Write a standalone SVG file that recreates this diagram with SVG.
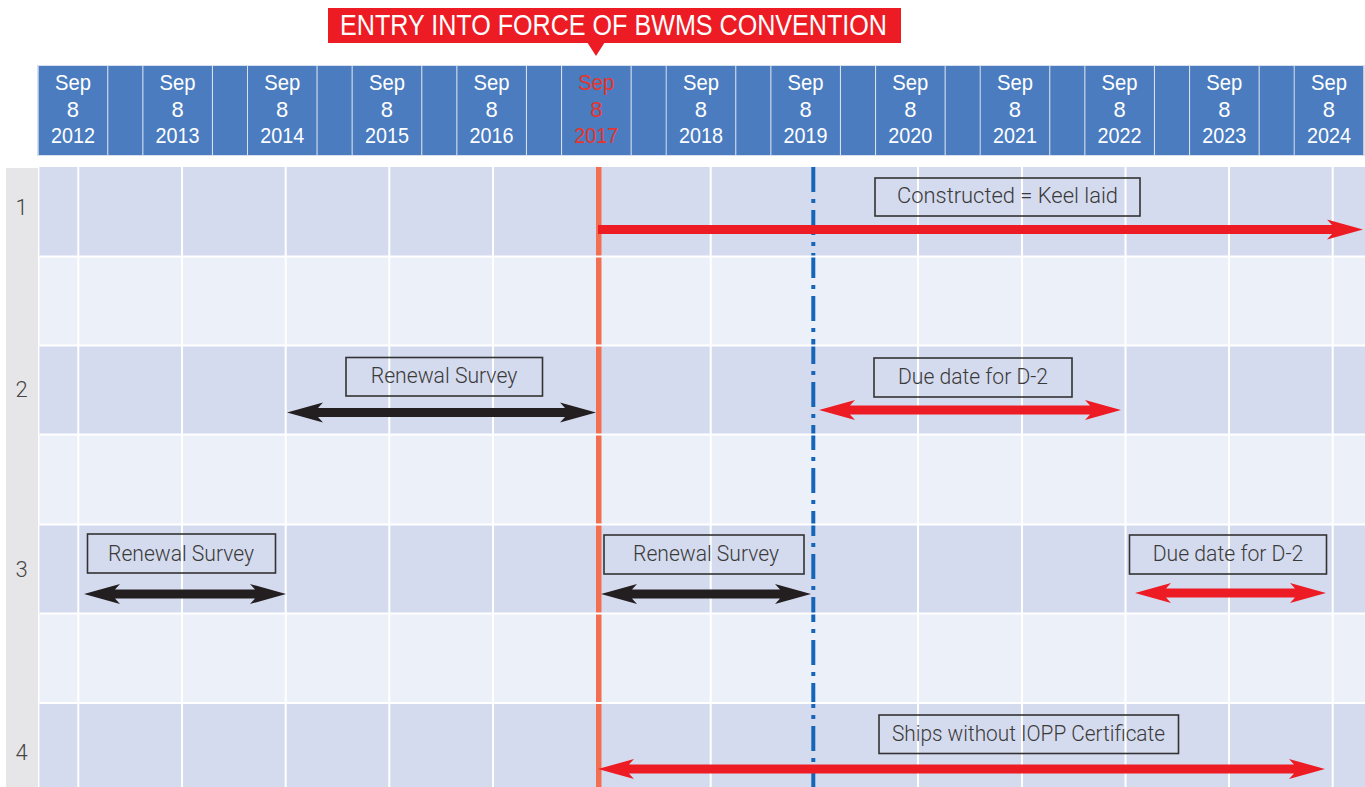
<svg xmlns="http://www.w3.org/2000/svg" width="1365" height="787" viewBox="0 0 1365 787">
<style>
.hc{fill:#4a7cbf}
.ht{font-family:"Liberation Sans",Arial,sans-serif;font-size:22px;fill:#ffffff;text-anchor:middle}
.ht.red{fill:#e8342c}
.dark{fill:#d5dbee}
.gl{stroke:#ffffff;stroke-width:2}
.box{fill:none;stroke:#333333;stroke-width:1.6}
.bt{font-family:Roboto,"Liberation Sans",Arial,sans-serif;font-weight:300;font-size:22px;fill:#3a3a3a}
.num{font-family:Roboto,"Liberation Sans",Arial,sans-serif;font-weight:300;font-size:22px;fill:#444444;text-anchor:middle}
.ar-red{fill:#ed1c24}
.ar-blk{fill:#231f20}
</style>
<rect width="1365" height="787" fill="#ffffff"/>

<g id="banner">
<rect x="328" y="8" width="573" height="35" fill="#ed1c24"/>
<polygon points="587,42 605,42 596,56" fill="#ed1c24"/>
<text x="340" y="35" font-family="Liberation Sans,Arial,sans-serif" font-size="29" fill="#ffffff" textLength="547" lengthAdjust="spacingAndGlyphs">ENTRY INTO FORCE OF BWMS CONVENTION</text>
</g>

<g id="header">
<rect x="37" y="65" width="1328" height="91" fill="#d8e0ee"/>
<rect class="hc" x="38.7" y="66" width="68.5" height="89"/><rect class="hc" x="108.3" y="66" width="34" height="89"/>
<rect class="hc" x="143.4" y="66" width="68.5" height="89"/><rect class="hc" x="213" y="66" width="34" height="89"/>
<rect class="hc" x="248" y="66" width="68.5" height="89"/><rect class="hc" x="317.6" y="66" width="34" height="89"/>
<rect class="hc" x="352.7" y="66" width="68.5" height="89"/><rect class="hc" x="422.3" y="66" width="34" height="89"/>
<rect class="hc" x="457.4" y="66" width="68.5" height="89"/><rect class="hc" x="527" y="66" width="34" height="89"/>
<rect class="hc" x="562.1" y="66" width="68.5" height="89"/><rect class="hc" x="631.7" y="66" width="34" height="89"/>
<rect class="hc" x="666.7" y="66" width="68.5" height="89"/><rect class="hc" x="736.3" y="66" width="34" height="89"/>
<rect class="hc" x="771.4" y="66" width="68.5" height="89"/><rect class="hc" x="841" y="66" width="34" height="89"/>
<rect class="hc" x="876.1" y="66" width="68.5" height="89"/><rect class="hc" x="945.7" y="66" width="34" height="89"/>
<rect class="hc" x="980.7" y="66" width="68.5" height="89"/><rect class="hc" x="1050.3" y="66" width="34" height="89"/>
<rect class="hc" x="1085.4" y="66" width="68.5" height="89"/><rect class="hc" x="1155" y="66" width="34" height="89"/>
<rect class="hc" x="1190.1" y="66" width="68.5" height="89"/><rect class="hc" x="1259.7" y="66" width="34" height="89"/>
<rect class="hc" x="1294.7" y="66" width="68.5" height="89"/>

<g class="ht">
<text x="72.9" y="90" textLength="36" lengthAdjust="spacingAndGlyphs">Sep</text><text x="72.9" y="117">8</text><text x="72.9" y="143" textLength="44" lengthAdjust="spacingAndGlyphs">2012</text>
<text x="177.6" y="90" textLength="36" lengthAdjust="spacingAndGlyphs">Sep</text><text x="177.6" y="117">8</text><text x="177.6" y="143" textLength="44" lengthAdjust="spacingAndGlyphs">2013</text>
<text x="282.2" y="90" textLength="36" lengthAdjust="spacingAndGlyphs">Sep</text><text x="282.2" y="117">8</text><text x="282.2" y="143" textLength="44" lengthAdjust="spacingAndGlyphs">2014</text>
<text x="386.9" y="90" textLength="36" lengthAdjust="spacingAndGlyphs">Sep</text><text x="386.9" y="117">8</text><text x="386.9" y="143" textLength="44" lengthAdjust="spacingAndGlyphs">2015</text>
<text x="491.6" y="90" textLength="36" lengthAdjust="spacingAndGlyphs">Sep</text><text x="491.6" y="117">8</text><text x="491.6" y="143" textLength="44" lengthAdjust="spacingAndGlyphs">2016</text>
<text class="ht red" x="596.3" y="90" textLength="36" lengthAdjust="spacingAndGlyphs">Sep</text><text class="ht red" x="596.3" y="117">8</text><text class="ht red" x="596.3" y="143" textLength="44" lengthAdjust="spacingAndGlyphs">2017</text>
<text x="700.9" y="90" textLength="36" lengthAdjust="spacingAndGlyphs">Sep</text><text x="700.9" y="117">8</text><text x="700.9" y="143" textLength="44" lengthAdjust="spacingAndGlyphs">2018</text>
<text x="805.6" y="90" textLength="36" lengthAdjust="spacingAndGlyphs">Sep</text><text x="805.6" y="117">8</text><text x="805.6" y="143" textLength="44" lengthAdjust="spacingAndGlyphs">2019</text>
<text x="910.3" y="90" textLength="36" lengthAdjust="spacingAndGlyphs">Sep</text><text x="910.3" y="117">8</text><text x="910.3" y="143" textLength="44" lengthAdjust="spacingAndGlyphs">2020</text>
<text x="1014.9" y="90" textLength="36" lengthAdjust="spacingAndGlyphs">Sep</text><text x="1014.9" y="117">8</text><text x="1014.9" y="143" textLength="44" lengthAdjust="spacingAndGlyphs">2021</text>
<text x="1119.6" y="90" textLength="36" lengthAdjust="spacingAndGlyphs">Sep</text><text x="1119.6" y="117">8</text><text x="1119.6" y="143" textLength="44" lengthAdjust="spacingAndGlyphs">2022</text>
<text x="1224.3" y="90" textLength="36" lengthAdjust="spacingAndGlyphs">Sep</text><text x="1224.3" y="117">8</text><text x="1224.3" y="143" textLength="44" lengthAdjust="spacingAndGlyphs">2023</text>
<text x="1328.9" y="90" textLength="36" lengthAdjust="spacingAndGlyphs">Sep</text><text x="1328.9" y="117">8</text><text x="1328.9" y="143" textLength="44" lengthAdjust="spacingAndGlyphs">2024</text>
</g>
</g>

<g id="grid">
<rect x="6" y="168" width="32" height="619" fill="#e6e6e8"/>
<rect x="39.5" y="166" width="1325.5" height="621" fill="#ecf0f9"/>
<rect class="dark" x="39.5" y="167" width="1325.5" height="89"/>
<rect class="dark" x="39.5" y="346" width="1325.5" height="89"/>
<rect class="dark" x="39.5" y="525" width="1325.5" height="89"/>
<rect class="dark" x="39.5" y="704" width="1325.5" height="83"/>
<line class="gl" x1="39.5" y1="166" x2="1365" y2="166"/>
<g class="gl">
<line x1="78.3" y1="166" x2="78.3" y2="787"/>
<line x1="182" y1="166" x2="182" y2="787"/>
<line x1="285.7" y1="166" x2="285.7" y2="787"/>
<line x1="389.3" y1="166" x2="389.3" y2="787"/>
<line x1="493" y1="166" x2="493" y2="787"/>
<line x1="710.7" y1="166" x2="710.7" y2="787"/>
<line x1="918" y1="166" x2="918" y2="787"/>
<line x1="1022" y1="166" x2="1022" y2="787"/>
<line x1="1125.5" y1="166" x2="1125.5" y2="787"/>
<line x1="1229" y1="166" x2="1229" y2="787"/>
<line x1="1332.7" y1="166" x2="1332.7" y2="787"/>
</g>
<rect x="596" y="167" width="5.5" height="620" fill="#f36f52"/>
<line x1="813.3" y1="167" x2="813.3" y2="787" stroke="#1565b8" stroke-width="4" stroke-dasharray="25 7 4 7"/>
<g class="gl">
<line x1="39.5" y1="256.5" x2="1365" y2="256.5"/>
<line x1="39.5" y1="345.5" x2="1365" y2="345.5"/>
<line x1="39.5" y1="434.5" x2="1365" y2="434.5"/>
<line x1="39.5" y1="524.5" x2="1365" y2="524.5"/>
<line x1="39.5" y1="613.5" x2="1365" y2="613.5"/>
<line x1="39.5" y1="703" x2="1365" y2="703"/>
</g>
<text class="num" x="21.5" y="215">1</text>
<text class="num" x="21.5" y="397">2</text>
<text class="num" x="21.5" y="577">3</text>
<text class="num" x="21.5" y="760">4</text>
</g>

<g id="connectors">
<polygon class="ar-red" points="598,225 1332,225 1327,219.5 1363,229.5 1327,239.5 1332,234 598,234"/>
<polygon class="ar-blk" points="287,412.5 323,402.5 318,408 565,408 560,402.5 596,412.5 560,422.5 565,417 318,417 323,422.5"/>
<polygon class="ar-red" points="819,410 855,400 850,405.5 1090,405.5 1085,400 1121,410 1085,420 1090,414.5 850,414.5 855,420"/>
<polygon class="ar-blk" points="84,594 120,584 115,589.5 255,589.5 250,584 286,594 250,604 255,598.5 115,598.5 120,604"/>
<polygon class="ar-blk" points="601,594 637,584 632,589.5 780,589.5 775,584 811,594 775,604 780,598.5 632,598.5 637,604"/>
<polygon class="ar-red" points="1135,593 1171,583 1166,588.5 1295,588.5 1290,583 1326,593 1290,603 1295,597.5 1166,597.5 1171,603"/>
<polygon class="ar-red" points="598,769 634,759 629,764.5 1294,764.5 1289,759 1325,769 1289,779 1294,773.5 629,773.5 634,779"/>
</g>

<g id="label-constructed">
<rect class="box" x="875" y="178" width="265" height="38"/>
<text class="bt" x="897" y="203" textLength="221" lengthAdjust="spacingAndGlyphs">Constructed  =  Keel laid</text>
</g>
<g id="label-renewal-2">
<rect class="box" x="346" y="357.5" width="196.5" height="38.5"/>
<text class="bt" x="370.7" y="383" textLength="146.6" lengthAdjust="spacingAndGlyphs">Renewal Survey</text>
</g>
<g id="label-due-2">
<rect class="box" x="874" y="358" width="198" height="39"/>
<text class="bt" x="898" y="384" textLength="150" lengthAdjust="spacingAndGlyphs">Due date for D-2</text>
</g>
<g id="label-renewal-3a">
<rect class="box" x="87.5" y="534" width="188" height="39"/>
<text class="bt" x="108" y="561" textLength="146" lengthAdjust="spacingAndGlyphs">Renewal Survey</text>
</g>
<g id="label-renewal-3b">
<rect class="box" x="604" y="535" width="200" height="39"/>
<text class="bt" x="633" y="561" textLength="146" lengthAdjust="spacingAndGlyphs">Renewal Survey</text>
</g>
<g id="label-due-3">
<rect class="box" x="1129.5" y="535" width="197" height="39"/>
<text class="bt" x="1152.7" y="561" textLength="150.6" lengthAdjust="spacingAndGlyphs">Due date for D-2</text>
</g>
<g id="label-iopp">
<rect class="box" x="879" y="715" width="299.5" height="38.5"/>
<text class="bt" x="892" y="741" textLength="273" lengthAdjust="spacingAndGlyphs">Ships without IOPP Certificate</text>
</g>
</svg>
